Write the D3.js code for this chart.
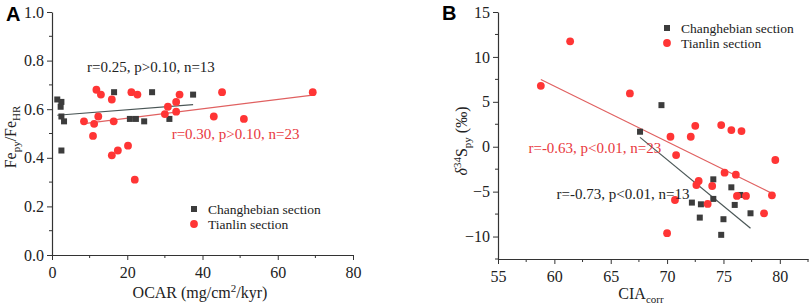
<!DOCTYPE html>
<html>
<head>
<meta charset="utf-8">
<script src="https://cdn.jsdelivr.net/npm/d3@7"></script>
<style>
  body { margin: 0; background: #fff; }
  svg { display: block; font-family: "Liberation Serif", "Times New Roman", serif; }
  .tick text { font-family: "Liberation Serif", "Times New Roman", serif; }
</style>
</head>
<body>
<svg id="chart" width="809" height="308"></svg>
<script>
// Panel A: Fe_py/Fe_HR vs OCAR
const ocarChang = [1.4, 2.5, 2.3, 2.5, 3.2, 2.5, 16.5, 26.6, 37.5, 20.7, 22.3, 24.5, 31.2];
const ferChang = [0.64, 0.63, 0.61, 0.57, 0.55, 0.43, 0.67, 0.67, 0.66, 0.56, 0.56, 0.55, 0.56];
const ocarTian = [8.5, 11.2, 10.9, 11.8, 13.0, 12.3, 15.9, 16.4, 15.9, 17.5, 20.2, 21.1, 22.7, 22.0, 30.0, 30.8, 33.0, 33.9, 33.0, 43.0, 45.2, 51.0, 69.3];
const ferTian = [0.55, 0.54, 0.49, 0.68, 0.66, 0.57, 0.64, 0.55, 0.41, 0.43, 0.45, 0.67, 0.66, 0.31, 0.58, 0.61, 0.63, 0.66, 0.59, 0.57, 0.67, 0.56, 0.67];
const fitAChang = [[1.4, 0.575], [37.5, 0.619]];
const fitATian = [[8.5, 0.541], [69.3, 0.658]];
const xTicksA = [0, 20, 40, 60, 80];
const yTicksA = [0.0, 0.2, 0.4, 0.6, 0.8, 1.0];

// Panel B: d34S_py vs CIA_corr
const ciaChang = [67.6, 69.5, 72.2, 73.0, 72.9, 74.1, 74.1, 75.0, 74.8, 75.7, 76.0, 76.5, 77.4];
const d34Chang = [1.67, 4.63, -6.22, -6.41, -7.89, -3.63, -5.81, -8.07, -9.81, -4.52, -6.48, -5.37, -7.41];
const ciaTian = [58.8, 61.4, 66.7, 70.3, 70.8, 70.7, 70.0, 72.1, 72.5, 72.8, 72.6, 73.6, 74.0, 74.8, 75.1, 75.7, 76.6, 76.1, 76.2, 77.0, 78.6, 79.3, 79.6];
const d34Tian = [6.78, 11.74, 5.93, 1.11, -0.93, -5.93, -9.63, 1.11, 2.33, -3.81, -4.26, -6.37, -4.37, 2.41, -2.89, 1.85, 1.74, -3.11, -5.48, -5.48, -7.41, -5.41, -1.48];
const fitBChang = [[67.6, 1.04], [77.4, -9.07]];
const fitBTian = [[58.8, 7.48], [79.3, -5.19]];
const xTicksB = [55, 60, 65, 70, 75, 80];
const yTicksB = [-10, -5, 0, 5, 10, 15];

const svg = d3.select("#chart");
const serif = "'Liberation Serif', 'Times New Roman', serif";
const gray = "#3c3c3c", red = "#ff3535", redText = "#e8383d";

function drawPanel(p) {
  const x = d3.scaleLinear().domain(p.xDomain).range([p.left, p.right]);
  const y = d3.scaleLinear().domain(p.yDomain).range([p.bottom, p.top]);
  const g = svg.append("g");

  // minor ticks
  g.append("g").selectAll("line").data(p.xMinor).join("line")
    .attr("x1", d => x(d)).attr("x2", d => x(d))
    .attr("y1", p.bottom).attr("y2", p.bottom + 3)
    .attr("stroke", "#333").attr("stroke-width", 1);
  g.append("g").selectAll("line").data(p.yMinor).join("line")
    .attr("y1", d => y(d)).attr("y2", d => y(d))
    .attr("x1", p.left).attr("x2", p.left - 3)
    .attr("stroke", "#333").attr("stroke-width", 1);

  const xAxis = g.append("g")
    .attr("transform", `translate(0,${p.bottom})`)
    .call(d3.axisBottom(x).tickValues(p.xTicks).tickSize(5).tickSizeOuter(0).tickFormat(p.xFmt));
  const yAxis = g.append("g")
    .attr("transform", `translate(${p.left},0)`)
    .call(d3.axisLeft(y).tickValues(p.yTicks).tickSize(5).tickSizeOuter(0).tickFormat(p.yFmt));
  [xAxis, yAxis].forEach(a => {
    a.attr("font-family", null).attr("font-size", null);
    a.select(".domain").attr("stroke", "#333").attr("stroke-width", 1.2);
    a.selectAll(".tick line").attr("stroke", "#333").attr("stroke-width", 1);
    a.selectAll("text").style("font-family", serif)
      .style("font-size", "16px").attr("fill", "#222");
  });
  xAxis.selectAll("text").attr("dy", "0.95em");

  // fit lines
  const line = d3.line().x(d => x(d[0])).y(d => y(d[1]));
  g.append("path").datum(p.fitChang).attr("d", line)
    .attr("fill", "none").attr("stroke", "#4a5656").attr("stroke-width", 1.2);
  g.append("path").datum(p.fitTian).attr("d", line)
    .attr("fill", "none").attr("stroke", "#e06060").attr("stroke-width", 1.2);

  // points
  const s = 6, r = 3.9;
  g.append("g").selectAll("rect").data(d3.zip(p.xChang, p.yChang)).join("rect")
    .attr("x", d => x(d[0]) - s / 2).attr("y", d => y(d[1]) - s / 2)
    .attr("width", s).attr("height", s).attr("fill", gray);
  g.append("g").selectAll("circle").data(d3.zip(p.xTian, p.yTian)).join("circle")
    .attr("cx", d => x(d[0])).attr("cy", d => y(d[1])).attr("r", r)
    .attr("fill", red);

  // annotations
  g.append("text").attr("x", x(p.noteChang[0])).attr("y", y(p.noteChang[1]))
    .attr("font-size", 15).attr("fill", "#222").text(p.noteChang[2]);
  g.append("text").attr("x", x(p.noteTian[0])).attr("y", y(p.noteTian[1]))
    .attr("font-size", 15).attr("fill", redText).text(p.noteTian[2]);

  // legend
  const lg = g.append("g").attr("transform", `translate(${p.legend[0]},${p.legend[1]})`);
  lg.append("rect").attr("x", -s / 2).attr("y", -s / 2).attr("width", s).attr("height", s).attr("fill", gray);
  lg.append("circle").attr("cx", 0).attr("cy", 15).attr("r", r).attr("fill", red);
  lg.append("text").attr("x", 14).attr("y", 4.5).attr("font-size", 13.5).attr("fill", "#222").text("Changhebian section");
  lg.append("text").attr("x", 14).attr("y", 19.5).attr("font-size", 13.5).attr("fill", "#222").text("Tianlin section");

  // panel letter
  g.append("text").attr("x", p.letter[0]).attr("y", p.letter[1])
    .style("font-family", "'Liberation Sans', Arial, sans-serif").attr("font-weight", "bold")
    .attr("font-size", 20).attr("fill", "#000").text(p.letter[2]);
  return { x, y, g };
}

const A = drawPanel({
  xDomain: [0, 80], yDomain: [0, 1], left: 52, right: 353, top: 12, bottom: 255,
  xTicks: xTicksA, yTicks: yTicksA, xMinor: [10, 30, 50, 70], yMinor: [0.1, 0.3, 0.5, 0.7, 0.9],
  xFmt: d3.format("d"), yFmt: d3.format(".1f"),
  xChang: ocarChang, yChang: ferChang, xTian: ocarTian, yTian: ferTian,
  fitChang: fitAChang, fitTian: fitATian,
  noteChang: [9.3, 0.753, "r=0.25, p>0.10, n=13"],
  noteTian: [31.8, 0.478, "r=0.30, p>0.10, n=23"],
  legend: [194, 209], letter: [6, 21, "A"]
});
// A axis titles
A.g.append("text").attr("x", 200).attr("y", 298).attr("text-anchor", "middle").attr("font-size", 16).attr("fill", "#222")
  .call(t => {
    t.append("tspan").text("OCAR (mg/cm");
    t.append("tspan").attr("dy", -6).attr("font-size", 11).text("2");
    t.append("tspan").attr("dy", 6).text("/kyr)");
  });
A.g.append("text").attr("transform", "translate(16,137) rotate(-90)").attr("text-anchor", "middle")
  .attr("font-size", 16).attr("fill", "#222")
  .call(t => {
    t.append("tspan").text("Fe");
    t.append("tspan").attr("dy", 4).attr("font-size", 11).text("py");
    t.append("tspan").attr("dy", -4).text("/Fe");
    t.append("tspan").attr("dy", 4).attr("font-size", 11).text("HR");
  });

const B = drawPanel({
  xDomain: [55, 82.5], yDomain: [-12.5, 15], left: 498, right: 808, top: 12, bottom: 259,
  xTicks: xTicksB, yTicks: yTicksB, xMinor: [57.5, 62.5, 67.5, 72.5, 77.5, 82.5], yMinor: [-12.5, -7.5, -2.5, 2.5, 7.5, 12.5],
  xFmt: d3.format("d"), yFmt: d3.format("d"),
  xChang: ciaChang, yChang: d34Chang, xTian: ciaTian, yTian: d34Tian,
  fitChang: fitBChang, fitTian: fitBTian,
  noteChang: [60.2, -5.85, "r=-0.73, p<0.01, n=13"],
  noteTian: [57.7, -0.67, "r=-0.63, p<0.01, n=23"],
  legend: [667, 28], letter: [442, 20, "B"]
});
B.g.append("text").attr("x", 641).attr("y", 299).attr("text-anchor", "middle").attr("font-size", 16).attr("fill", "#222")
  .call(t => {
    t.append("tspan").text("CIA");
    t.append("tspan").attr("dy", 4).attr("font-size", 11).text("corr");
  });
B.g.append("text").attr("transform", "translate(467,141) rotate(-90)").attr("text-anchor", "middle")
  .attr("font-size", 16).attr("fill", "#222")
  .call(t => {
    t.append("tspan").attr("font-style", "italic").text("δ");
    t.append("tspan").attr("dy", -6).attr("font-size", 11).text("34");
    t.append("tspan").attr("dy", 6).text("S");
    t.append("tspan").attr("dy", 4).attr("font-size", 11).text("py");
    t.append("tspan").attr("dy", -4).text(" (‰)");
  });
</script>
</body>
</html>
